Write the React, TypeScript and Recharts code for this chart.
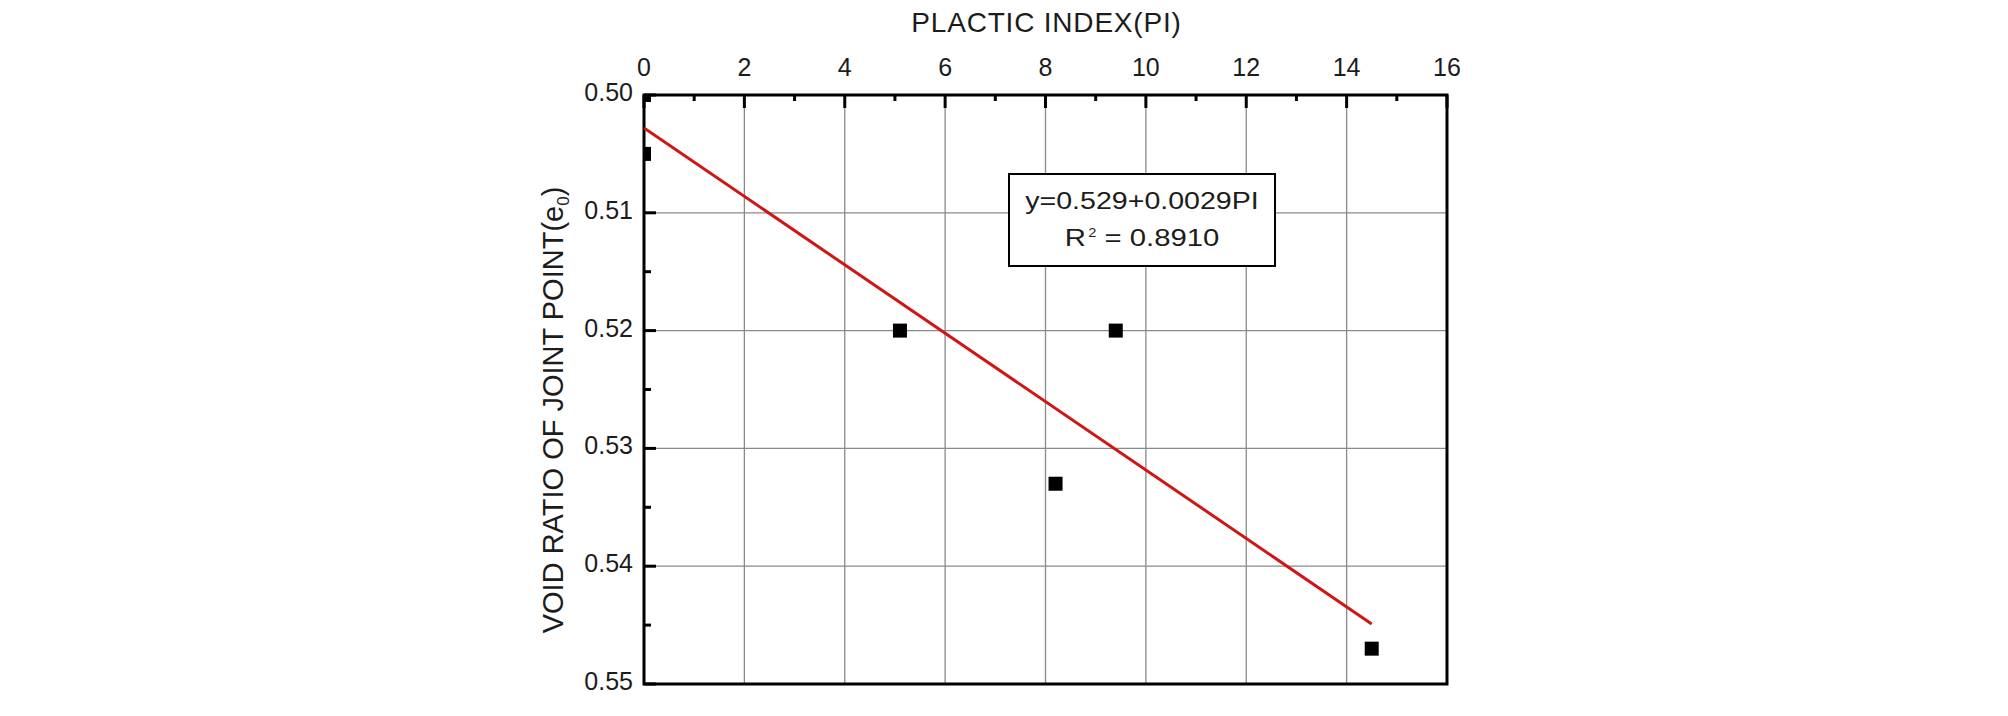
import {
  ComposedChart,
  Scatter,
  Line,
  XAxis,
  YAxis,
  CartesianGrid,
  ReferenceArea,
} from 'recharts'

// measured points (plastic index vs void ratio at joint point)
const PI_VALUES = [0, 0, 5.1, 8.2, 9.4, 14.5]
const VOID_RATIOS = [0.5, 0.505, 0.52, 0.533, 0.52, 0.547]

// fitted line end points
const FIT_PI = [0, 14.5]
const FIT_VOID = [0.5028, 0.5449]

const X_TICKS = [0, 1, 2, 3, 4, 5, 6, 7, 8, 9, 10, 11, 12, 13, 14, 15, 16]
const Y_TICKS = [0.5, 0.505, 0.51, 0.515, 0.52, 0.525, 0.53, 0.535, 0.54, 0.545, 0.55]
const X_GRID = [2, 4, 6, 8, 10, 12, 14]
const Y_GRID = [0.51, 0.52, 0.53, 0.54]

const FONT = "'Liberation Sans', Arial, sans-serif"
const TEXT = '#1c1c1c'
const PLOT_TOP = 95
const PLOT_LEFT = 644

const points = PI_VALUES.map((x, i) => ({ x, y: VOID_RATIOS[i] }))
const fit = FIT_PI.map((x, i) => ({ x, y: FIT_VOID[i] }))

function XTick({ x, payload }: any) {
  const v = Number(payload.value)
  const major = v % 2 === 0
  return (
    <g>
      <line x1={x} x2={x} y1={PLOT_TOP} y2={PLOT_TOP + (major ? 13 : 6)} stroke="#000" strokeWidth={3} />
      {major && (
        <text x={x} y={76} textAnchor="middle" fontSize={25} fontFamily={FONT} fill={TEXT}>
          {v}
        </text>
      )}
    </g>
  )
}

function YTick({ y, payload }: any) {
  const v = Number(payload.value)
  const major = Math.round(v * 1000) % 10 === 0
  return (
    <g>
      <line x1={PLOT_LEFT} x2={PLOT_LEFT + (major ? 12 : 7)} y1={y} y2={y} stroke="#000" strokeWidth={3} />
      {major && (
        <text x={633} y={y + 6} textAnchor="end" fontSize={25} fontFamily={FONT} fill={TEXT}>
          {v.toFixed(2)}
        </text>
      )}
    </g>
  )
}

function SquareDot(props: any) {
  const { cx, cy } = props
  return <rect x={cx - 7} y={cy - 7} width={14} height={14} fill="#000" />
}

function XTitle({ viewBox }: any) {
  const cx = viewBox.x + viewBox.width / 2
  return (
    <text x={cx + 1} y={32} textAnchor="middle" fontSize={28} fontFamily={FONT} fill={TEXT} letterSpacing={0.8}>
      PLACTIC INDEX(PI)
    </text>
  )
}

function YTitle() {
  return (
    <text
      x={563}
      y={410}
      transform="rotate(-90, 563, 410)"
      textAnchor="middle"
      fontSize={29}
      fontFamily={FONT}
      fill={TEXT}
    >
      VOID RATIO OF JOINT POINT(e
      <tspan fontSize={17} dy={6}>0</tspan>
      <tspan dy={-6}>)</tspan>
    </text>
  )
}

export default function App() {
  return (
    <div style={{ position: 'absolute', left: 0, top: 0, width: 2008, height: 716, background: '#fff' }}>
      <ComposedChart
        width={2008}
        height={716}
        data={points}
        margin={{ top: 0, right: 561, bottom: 32, left: 0 }}
      >
        <CartesianGrid
          stroke="#8a8a8a"
          strokeWidth={1.3}
          verticalValues={X_GRID}
          horizontalValues={Y_GRID}
        />
        <XAxis
          type="number"
          dataKey="x"
          orientation="top"
          domain={[0, 16]}
          ticks={X_TICKS}
          interval={0}
          allowDataOverflow
          height={95}
          axisLine={false}
          tickLine={false}
          tickSize={0}
          tick={(p: any) => <XTick {...p} />}
          label={{ content: (p: any) => <XTitle {...p} /> }}
        />
        <YAxis
          type="number"
          dataKey="y"
          reversed
          domain={[0.5, 0.55]}
          ticks={Y_TICKS}
          interval={0}
          allowDataOverflow
          width={644}
          axisLine={false}
          tickLine={false}
          tickSize={0}
          tick={(p: any) => <YTick {...p} />}
          label={{ content: () => <YTitle /> }}
        />
        <Line
          data={fit}
          dataKey="y"
          stroke="#d01515"
          strokeWidth={3}
          dot={false}
          activeDot={false}
          isAnimationActive={false}
        />
        <Scatter data={points} dataKey="y" shape={SquareDot} isAnimationActive={false} />
        <ReferenceArea x1={0} x2={16} y1={0.5} y2={0.55} fill="none" stroke="#000" strokeWidth={3} />
      </ComposedChart>
      <div
        style={{
          position: 'absolute',
          left: 1008,
          top: 173,
          width: 264,
          height: 90,
          border: '2px solid #000',
          background: '#fff',
          fontFamily: FONT,
          fontSize: 24,
          color: TEXT,
          textAlign: 'center',
        }}
      >
        <div style={{ position: 'absolute', left: 0, right: 0, top: 12, lineHeight: '28px', transform: 'scaleX(1.19)' }}>
          y=0.529+0.0029PI
        </div>
        <div style={{ position: 'absolute', left: 0, right: 0, top: 49, lineHeight: '28px', transform: 'scaleX(1.22)' }}>
          R<sup style={{ fontSize: 12, verticalAlign: 'top', position: 'relative', top: -5, marginLeft: 2 }}>2</sup> = 0.8910
        </div>
      </div>
    </div>
  )
}
